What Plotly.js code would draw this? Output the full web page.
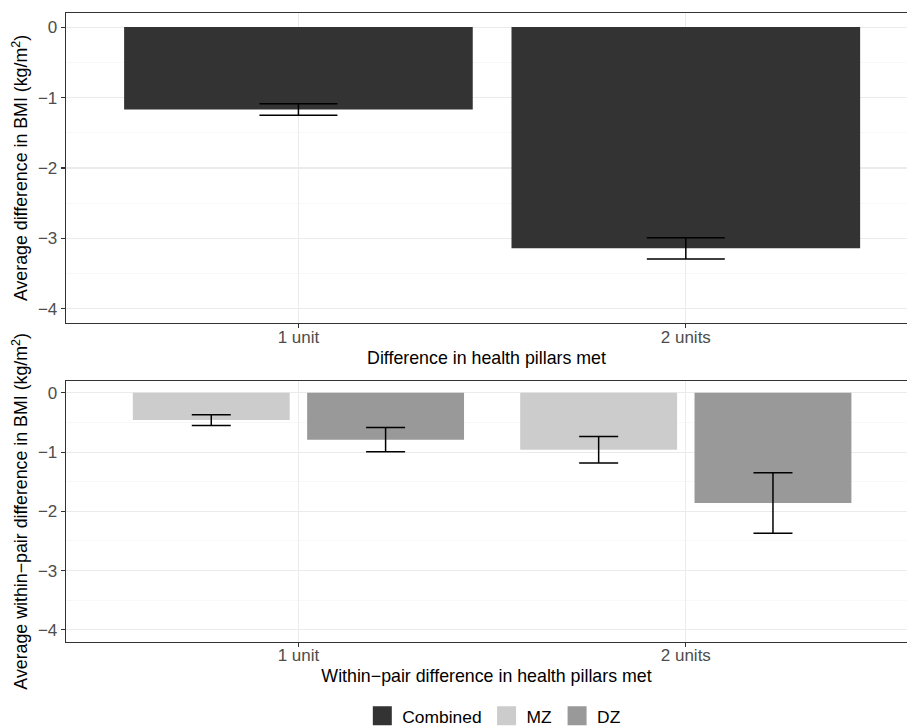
<!DOCTYPE html>
<html>
<head>
<meta charset="utf-8">
<script src="https://cdn.plot.ly/plotly-3.0.1.min.js"></script>
<style>html,body{margin:0;padding:0;background:#fff}</style>
</head>
<body>
<div id="chart" style="width:907px;height:726px"></div>
<script>
// Categories: difference in number of health pillars met
const pillarCategories = ['1 unit', '2 units'];

// Top panel: combined cohort, mean BMI difference and error half-widths
const combinedMean = [-1.17, -3.14];
const combinedErr = [0.083, 0.15];

// Bottom panel: within-pair differences for monozygotic and dizygotic twins
const mzMean = [-0.46, -0.96];
const mzErr = [0.09, 0.225];
const dzMean = [-0.79, -1.86];
const dzErr = [0.205, 0.51];

// Shared y tick labels and half-unit minor grid positions
const yTickVals = [0, -1, -2, -3, -4];
const yTickText = ['0', '\u22121', '\u22122', '\u22123', '\u22124'];
const yMinorVals = [-0.5, -1.5, -2.5, -3.5];

const FONT = 'Liberation Sans, Arial, Helvetica, sans-serif';
const GRID = '#ebebeb';
const MINOR = '#f4f4f4';
const AXIS = '#333333';

function errBar(arr, cap) {
  return {type: 'data', array: arr, visible: true, symmetric: true,
          color: '#000000', thickness: 1.5, width: cap};
}

const traces = [
  {type: 'bar', x: pillarCategories, y: combinedMean, name: 'Combined', width: 0.9,
   marker: {color: '#333333'}, error_y: errBar(combinedErr, 39),
   xaxis: 'x', yaxis: 'y', showlegend: false, hoverinfo: 'skip'},
  {type: 'bar', x: pillarCategories, y: mzMean, name: 'MZ',
   marker: {color: '#cccccc'}, error_y: errBar(mzErr, 19.5),
   xaxis: 'x2', yaxis: 'y2', showlegend: false, hoverinfo: 'skip'},
  {type: 'bar', x: pillarCategories, y: dzMean, name: 'DZ',
   marker: {color: '#999999'}, error_y: errBar(dzErr, 19.5),
   xaxis: 'x2', yaxis: 'y2', showlegend: false, hoverinfo: 'skip'}
];

// Legend keys (square swatches)
[['Combined', '#333333'], ['MZ', '#cccccc'], ['DZ', '#999999']].forEach(function (k) {
  traces.push({type: 'scatter', mode: 'markers', x: [null], y: [null], name: k[0],
    marker: {symbol: 'square', size: 16, color: k[1], line: {width: 3, color: k[1]}},
    xaxis: 'x2', yaxis: 'y2', showlegend: true, hoverinfo: 'skip'});
});

function xAxis(title, anchor) {
  return {
    type: 'category', anchor: anchor, domain: [66 / 907, 1],
    range: [-0.6, 1.571], fixedrange: true,
    showline: true, linecolor: AXIS, linewidth: 1.3, mirror: true,
    showgrid: true, gridcolor: GRID, gridwidth: 1.1,
    ticks: 'outside', ticklen: 4, tickwidth: 1.1, tickcolor: AXIS,
    ticklabelstandoff: -6,
    tickfont: {family: FONT, size: 17, color: '#4d4d4d'},
    title: {text: title, font: {family: FONT, size: 17.8, color: '#000'}, standoff: 5},
    zeroline: false, automargin: false
  };
}

function yAxis(domain, title, anchor) {
  return {
    anchor: anchor, domain: domain, range: [-4.2, 0.2], fixedrange: true,
    tickvals: yTickVals, ticktext: yTickText,
    showline: true, linecolor: AXIS, linewidth: 1.3,
    showgrid: true, gridcolor: GRID, gridwidth: 1.1,
    minor: {tickmode: 'array', tickvals: yMinorVals, showgrid: true,
            gridcolor: MINOR, gridwidth: 0.6, ticks: ''},
    ticks: 'outside', ticklen: 4, tickwidth: 1.1, tickcolor: AXIS,
    tickfont: {family: FONT, size: 17, color: '#4d4d4d'},
    title: {text: title, font: {family: FONT, size: 17.8, color: '#000'}, standoff: 5},
    zeroline: false, automargin: false
  };
}

const layout = {
  width: 907, height: 726,
  margin: {l: 0, r: 0, t: 0, b: 0, autoexpand: false},
  paper_bgcolor: '#ffffff', plot_bgcolor: '#ffffff',
  font: {family: FONT, color: '#000'},
  barmode: 'group', bargap: 0.1, bargroupgap: 0.1,
  xaxis: xAxis('Difference in health pillars met', 'y'),
  yaxis: yAxis([(726 - 323) / 726, (726 - 13) / 726],
               'Average difference in BMI (kg/m<sup>2</sup>)', 'x'),
  xaxis2: xAxis('Within\u2212pair difference in health pillars met', 'y2'),
  yaxis2: yAxis([(726 - 641.7) / 726, (726 - 381) / 726],
                'Average within\u2212pair difference in BMI (kg/m<sup>2</sup>)', 'x2'),
  showlegend: true,
  legend: {orientation: 'h', x: 0.545, xanchor: 'center',
           yref: 'container', y: 10 / 726, yanchor: 'middle',
           font: {family: FONT, size: 17.4, color: '#000'}, bgcolor: 'rgba(0,0,0,0)'}
};

Plotly.newPlot('chart', traces, layout, {displayModeBar: false, staticPlot: true});
</script>
</body>
</html>
